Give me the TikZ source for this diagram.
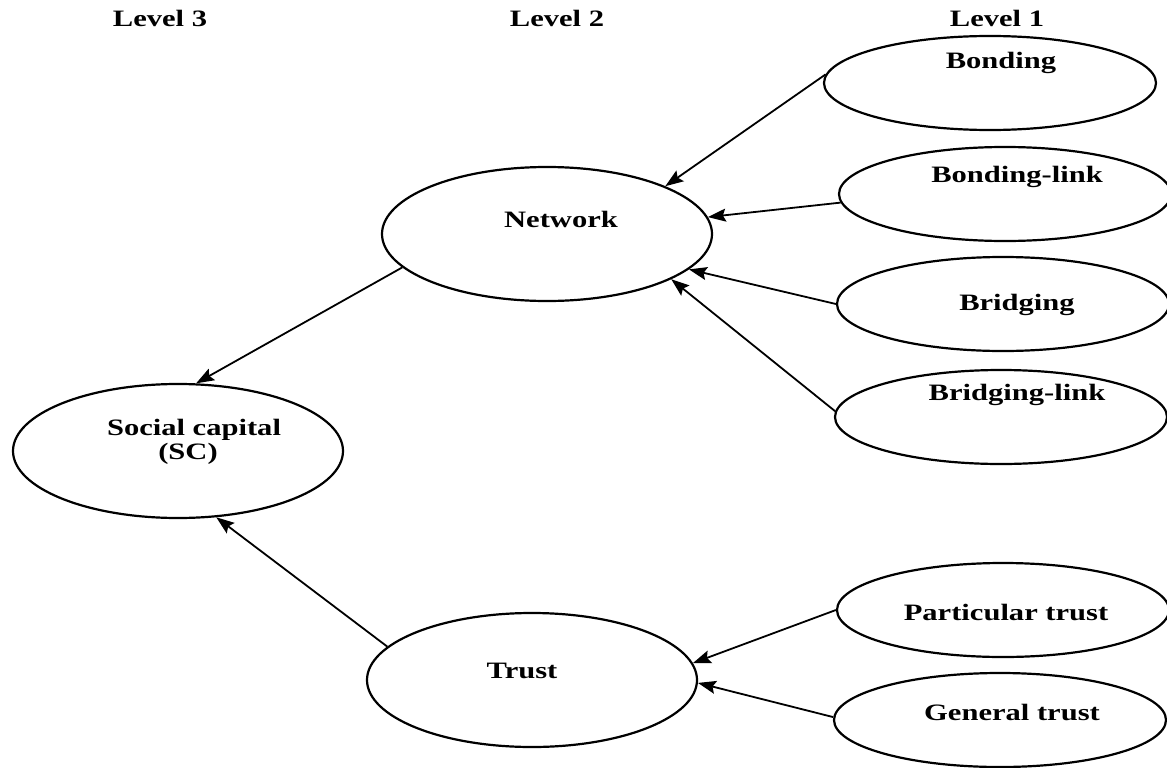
\documentclass[tikz,border=0pt]{standalone}
\usepackage{fontspec}
\setmainfont{Liberation Serif}
\usetikzlibrary{shapes.geometric,arrows.meta}
\newcommand\widetxt[1]{\scalebox{1.3}[1]{#1}}
\begin{document}
\begin{tikzpicture}[x=1pt,y=-1pt,
  oval/.style={draw, ellipse, line width=2.2pt, inner sep=0pt},
  small/.style={oval, minimum width=332pt, minimum height=94pt},
  big/.style={oval, minimum width=330pt, minimum height=134pt},
  lbl/.style={anchor=base, inner sep=0pt, font=\fontsize{23.5}{24}\selectfont\bfseries},
  arr/.style={line width=1.8pt, -{Stealth[length=18pt,width=13pt,inset=3pt]}}]
\useasboundingbox (0,0) rectangle (1167,768);

% ellipses
\node[small] (bond) at (990,83) {};
\node[small] (bondlink) at (1005,194) {};
\node[small] (bridg) at (1003,304) {};
\node[small] (bridglink) at (1001,417) {};
\node[small] (partic) at (1003,610) {};
\node[small] (general) at (1000,720) {};
\node[big] (net) at (547,234) {};
\node[big] (sc) at (178,451) {};
\node[big] (trust) at (532,680) {};

% level headings
\node[lbl] (lv3) at (160,27) {\widetxt{Level 3}};
\node[lbl] (lv2) at (557,27) {\widetxt{Level 2}};
\node[lbl] (lv1) at (997,27) {\widetxt{Level 1}};

% texts
\node[lbl] (tbond) at (1001,69) {\widetxt{Bonding}};
\node[lbl] (tbondlink) at (1017,182) {\widetxt{Bonding-link}};
\node[lbl] (tbridg) at (1017,310) {\widetxt{Bridging}};
\node[lbl] (tbridglink) at (1017,400) {\widetxt{Bridging-link}};
\node[lbl] (tpartic) at (1006,620) {\widetxt{Particular trust}};
\node[lbl] (tgeneral) at (1012,720) {\widetxt{General trust}};
\node[lbl] (tnet) at (561,227) {\widetxt{Network}};
\node[lbl] (tsc1) at (194,435) {\widetxt{Social capital}};
\node[lbl] (tsc2) at (188,459) {\widetxt{(SC)}};
\node[lbl] (ttrust) at (522,678) {\widetxt{Trust}};

% connectors
\draw[arr] (bond.177) -- (net.22);
\draw[arr] (bondlink.183) -- (net.6);
\draw[arr] (bridg.180) -- (net.-14);
\draw[arr] (bridglink.178) -- (net.-20);
\draw[arr] (net.193) -- (sc.75);
\draw[arr] (trust.167) -- (sc.-60);
\draw[arr] (partic.180) -- (trust.6);
\draw[arr] (general.179) -- (trust.-1);
\end{tikzpicture}
\end{document}
